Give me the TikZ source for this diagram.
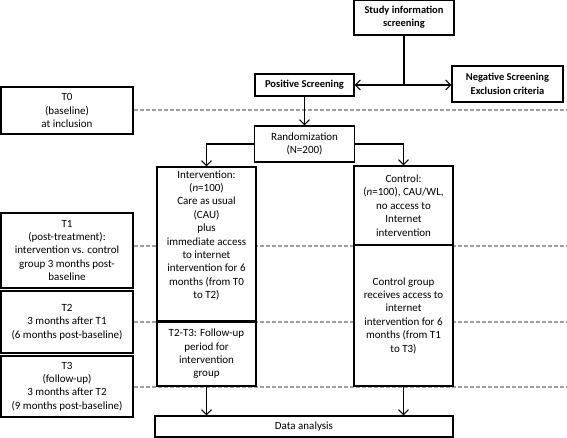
\documentclass[tikz,border=0pt]{standalone}
\usepackage{fontspec}
\setmainfont{Carlito}
\usetikzlibrary{arrows.meta,backgrounds}

\begin{document}
\begin{tikzpicture}[x=1pt, y=-1pt, >={Straight Barb[length=5pt,width=10pt]}, box/.style={draw, line width=1.1pt, fill=white, align=center, inner sep=1pt, font=\fontsize{11}{13.4}\selectfont}, head/.style={box, font=\fontsize{10.5}{13.4}\selectfont\bfseries}, guide/.style={draw=gray!75, dash pattern=on 4pt off 2pt, line width=1.1pt}, link/.style={line width=1.1pt}]
\useasboundingbox (0,0) rectangle (567,438);
% screening
\node[head, minimum width=100pt, minimum height=35pt] (info) at (404,17.5) {Study information\\screening};
\node[head, minimum width=99pt, minimum height=22pt] (pos) at (304.5,85) {Positive Screening};
\node[head, minimum width=111pt, minimum height=36pt] (neg) at (507.5,84) {Negative Screening\\Exclusion criteria};
\coordinate (split) at (404,85);
% time points
\node[box, minimum width=132pt, minimum height=47pt] (t0) at (67,110.5) {T0\\(baseline)\\at inclusion};
\node[box, minimum width=132pt, minimum height=75pt] (t1) at (67,250.5) {T1\\(post-treatment):\\intervention vs. control\\group 3 months post-\\baseline};
\node[box, minimum width=132pt, minimum height=62pt] (t2) at (67,322) {T2\\3 months after T1\\(6 months post-baseline)};
\node[box, minimum width=132pt, minimum height=61pt] (t3) at (67,386.5) {T3\\(follow-up)\\3 months after T2\\(9 months post-baseline)};
% arms
\node[box, minimum width=100pt, minimum height=36pt] (rand) at (304.5,144) {Randomization\\(N=200)};
\node[box, minimum width=99pt, minimum height=154pt, text depth=19pt] (interv) at (206.5,244) {Intervention:\\(\textit{n}=100)\\Care as usual\\(CAU)\\plus\\immediate access\\to internet\\intervention for 6\\months (from T0\\to T2)};
\node[box, minimum width=99pt, minimum height=64pt] (t23) at (206.5,354) {T2-T3: Follow-up\\period for\\intervention\\group};
\node[box, minimum width=99pt, minimum height=79pt] (ctrl) at (403.5,205.5) {Control:\\(\textit{n}=100), CAU/WL,\\no access to\\Internet\\intervention};
\node[box, minimum width=99pt, minimum height=141pt] (ctrlb) at (403.5,315.5) {Control group\\receives access to\\internet\\intervention for 6\\months (from T1\\to T3)};
\node[box, minimum width=298pt, minimum height=21pt] (data) at (304,426.5) {Data analysis};
% right ends of the time lines
\coordinate (e0) at (567,110);
\coordinate (e1) at (567,246);
\coordinate (e2) at (567,322);
\coordinate (e3) at (567,387);
\begin{scope}[on background layer]
\draw[guide] (t0.east |- e0) -- (e0);
\draw[guide] (t1.east |- e1) -- (e1);
\draw[guide] (t2.east |- e2) -- (e2);
\draw[guide] (t3.east |- e3) -- (e3);
\end{scope}
\draw[link] (info) -- (split);
\draw[link, ->] (split) -- (pos.east |- split);
\draw[link, ->] (split) -- (neg.west |- split);
\draw[link, ->] (pos) -- (rand);
\draw[link, ->] (rand.west) -| (interv.north);
\draw[link, ->] (rand.east) -| (ctrl.north);
\draw[link, ->] (t23.south) -- (t23.south |- data.north);
\draw[link, ->] (ctrlb.south) -- (ctrlb.south |- data.north);
\end{tikzpicture}
\end{document}
